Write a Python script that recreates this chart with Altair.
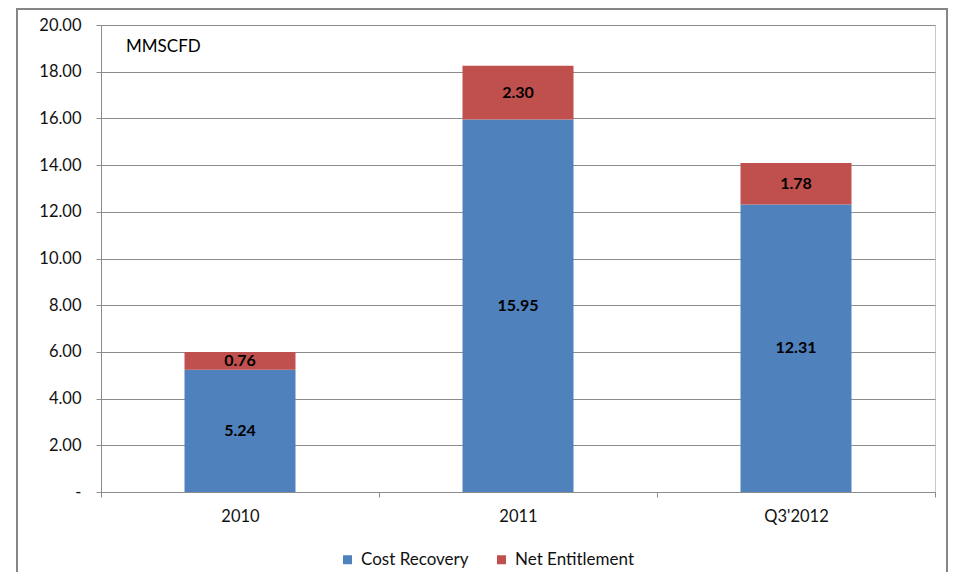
import altair as alt
import pandas as pd

years = ["2010", "2011", "Q3'2012"]
cost_recovery = [5.24, 15.95, 12.31]
net_entitlement = [0.76, 2.30, 1.78]
series = ["Cost Recovery", "Net Entitlement"]
colors = ["#4F81BD", "#C0504D"]
y_ticks = [0, 2, 4, 6, 8, 10, 12, 14, 16, 18, 20]
unit_label = "MMSCFD"

rows = []
for i, yr in enumerate(years):
    rows.append({"year": yr, "series": series[0], "value": cost_recovery[i], "ord": 0})
    rows.append({"year": yr, "series": series[1], "value": net_entitlement[i], "ord": 1})
df = pd.DataFrame(rows)

FONT = "Lato"
GRAY = "#8c8c8c"

base = alt.Chart(df).transform_stack(
    stack="value", groupby=["year"], as_=["y0", "y1"], sort=[alt.SortField("ord")]
).transform_calculate(mid="(datum.y0 + datum.y1) / 2")

xenc = alt.X(
    "year:N", sort=years,
    scale=alt.Scale(paddingInner=0, paddingOuter=0),
    axis=alt.Axis(title=None, labelAngle=0, tickBand="extent", tickSize=5,
                  tickColor=GRAY, domainColor=GRAY, labelPadding=11,
                  labelFontSize=16.5, labelFont=FONT, labelColor="#111"),
)

bars = base.mark_bar(size=111).encode(
    x=xenc,
    y=alt.Y("y0:Q", scale=alt.Scale(domain=[0, 20]),
            axis=alt.Axis(title=None, values=y_ticks, grid=True, gridColor=GRAY,
                          tickSize=5, tickColor=GRAY, domainColor=GRAY,
                          labelPadding=15, labelFontSize=16.5, labelFont=FONT,
                          labelColor="#111",
                          labelExpr="datum.value == 0 ? '-\u2007' : format(datum.value, '.2f')")),
    y2="y1:Q",
    color=alt.Color("series:N", sort=series,
                    scale=alt.Scale(domain=series, range=colors),
                    legend=alt.Legend(title=None, orient="none", direction="horizontal",
                                      legendX=238, legendY=526, symbolType="square",
                                      symbolSize=81, symbolStrokeWidth=0,
                                      labelFontSize=17, labelFont=FONT, labelColor="#111",
                                      labelOffset=5, columnPadding=24)),
    order=alt.Order("ord:Q"),
)

labels = base.mark_text(fontWeight="bold", fontSize=16, font=FONT, color="black").encode(
    x=alt.X("year:N", sort=years),
    y=alt.Y("mid:Q"),
    text=alt.Text("value:Q", format=".2f"),
)

unit = alt.Chart(alt.Data(values=[{"t": unit_label}])).mark_text(
    align="left", baseline="middle", fontSize=17, font=FONT, color="black"
).encode(x=alt.value(25), y=alt.value(22), text="t:N")

frame = alt.Chart(alt.Data(values=[{"a": 1}])).mark_rect(
    filled=False, stroke="#868686", strokeWidth=2
).encode(x=alt.value(-84), x2=alt.value(846), y=alt.value(-16), y2=alt.value(560))

chart = alt.layer(frame, bars, labels, unit).properties(
    width=834, height=467,
    autosize=alt.AutoSizeParams(type="none"),
    padding={"left": 93, "top": 17, "right": 14, "bottom": 80},
).configure_view(stroke="#c8c8c8", strokeWidth=1)

chart.save("out.html", embed_options={"renderer": "svg", "actions": False})
